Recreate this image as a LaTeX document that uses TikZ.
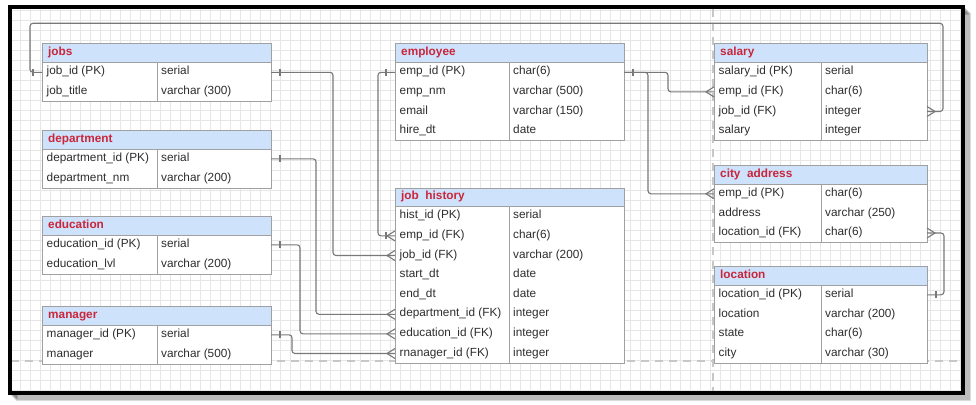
\documentclass[tikz,border=0pt]{standalone}
\usepackage{fontspec}
\setmainfont{Liberation Sans}
\usepackage{tikz}
\usetikzlibrary{calc}

\definecolor{hdrblue}{RGB}{207,226,252}
\definecolor{titlered}{RGB}{200,38,58}
\definecolor{tblgray}{RGB}{160,160,160}
\definecolor{linegray}{RGB}{120,120,120}
\definecolor{txtgray}{RGB}{45,45,45}
\definecolor{gridgray}{RGB}{230,230,230}

\tikzset{
  hdr/.style={draw=tblgray, fill=hdrblue, line width=1pt, minimum height=18.5pt, inner sep=0pt, outer sep=0pt},
  row/.style={fill=white, minimum height=19.6pt, inner sep=0pt, outer sep=0pt},
  cell/.style={inner sep=0pt, text=txtgray, font=\fontsize{11.8}{14}\selectfont},
  title/.style={inner sep=0pt, text=titlered, font=\fontsize{11.8}{14}\selectfont\bfseries},
  tbl/.style={draw=tblgray, line width=1pt},
  conn/.style={draw=linegray, line width=1.1pt, rounded corners=3pt},
  ermark/.style={draw=linegray, line width=1.1pt},
  one/.pic={\draw[ermark] (9,-3.5) -- (9,3.5);},
  many/.pic={\draw[ermark] (0,-5) -- (8,0) -- (0,5);},
}

% table: name, top left, width, divider, rows, title, fields
\newcommand{\ertable}[7]{%
  \node[hdr, minimum width=#3pt, anchor=north west] (#1) at #2 {};
  \node[title, anchor=mid west] at ($(#1.west)+(6,0)$) {#6};
  \foreach \fld/\typ [count=\i] in {#7} {
    \node[row, minimum width=#3pt, anchor=north west] (#1-\i) at ($(#1.south west)+(0,{(\i-1)*19.6})$) {};
    \node[cell, anchor=mid west] at ($(#1-\i.west)+(4.5,0)$) {\fld};
    \node[cell, anchor=mid west] at ($(#1-\i.west)+(#4+4,0)$) {\typ};
  }
  \draw[tbl] (#1.south west) rectangle (#1-#5.south east);
  \draw[tbl] ($(#1.south west)+(#4,0)$) -- ($(#1-#5.south west)+(#4,0)$);
  \draw[tbl] (#1.north west) rectangle (#1.south east);
}

\begin{document}
\begin{tikzpicture}[x=1pt, y=-1pt]
\useasboundingbox (0,0) rectangle (976,404);

% canvas
\fill[white] (0,0) rectangle (976,404);
\foreach \s in {1,...,7}
  \draw[black, opacity=0.14, line width=2pt] ($(9.5,6.7)+(\s,\s)$) rectangle ($(962.5,393)+(\s,\s)$);
\fill[white] (9.5,6.7) rectangle (962.5,393);
\foreach \x in {20,30,...,960} \draw[gridgray, line width=0.6pt] (\x,9) -- (\x,391);
\foreach \y in {10,20,...,390} \draw[gridgray, line width=0.6pt] (11,\y) -- (961,\y);
\draw[black!22, line width=1.2pt, dash pattern=on 8pt off 6pt] (713,9) -- (713,391);
\draw[black!22, line width=1.2pt, dash pattern=on 8pt off 6pt] (11,361) -- (961,361);
\draw[line width=4pt] (9.5,6.7) rectangle (962.5,393);

% tables
\ertable{jobs}{(42,44)}{229}{115}{2}{jobs}{job\_id (PK)/serial, job\_title/varchar (300)}
\ertable{dept}{(42,130.5)}{229}{115}{2}{department}{department\_id (PK)/serial, department\_nm/varchar (200)}
\ertable{edu}{(42,216.5)}{229}{115}{2}{education}{education\_id (PK)/serial, education\_lvl/varchar (200)}
\ertable{mgr}{(42,306.5)}{229}{115}{2}{manager}{manager\_id (PK)/serial, manager/varchar (500)}
\ertable{emp}{(395,44)}{229}{114}{4}{employee}{emp\_id (PK)/char(6), emp\_nm/varchar (500), email/varchar (150), hire\_dt/date}
\ertable{jh}{(395,188)}{229}{114}{8}{job\ \ history}{hist\_id (PK)/serial, emp\_id (FK)/char(6), job\_id (FK)/varchar (200), start\_dt/date, end\_dt/date, department\_id (FK)/integer, education\_id (FK)/integer, rnanager\_id (FK)/integer}
\ertable{sal}{(714,44)}{213}{107}{4}{salary}{salary\_id (PK)/serial, emp\_id (FK)/char(6), job\_id (FK)/integer, salary/integer}
\ertable{city}{(714,165.5)}{213}{107}{3}{city\ \ address}{emp\_id (PK)/char(6), address/varchar (250), location\_id (FK)/char(6)}
\ertable{loc}{(714,266.5)}{213}{107}{4}{location}{location\_id (PK)/serial, location/varchar (200), state/char(6), city/varchar (30)}

% relations
\draw[conn] (jobs-1.east) -- ++(62,0) |- (jh-3.west);
\draw[conn] (emp-1.west) -- ++(-17,0) |- (jh-2.west);
\draw[conn] (jobs-1.west) -- ++(-12,0) -- ++(0,-49) -| ($(sal-3.east)+(16,0)$) -- (sal-3.east);
\draw[conn] (dept-1.east) -- ++(45,0) |- (jh-6.west);
\draw[conn] (edu-1.east) -- ++(29,0) |- (jh-7.west);
\draw[conn] (mgr-1.east) -- ++(21,0) |- (jh-8.west);
\draw[conn] (emp-1.east) -- ++(44,0) |- (sal-2.west);
\draw[conn] (emp-1.east) -- ++(24,0) |- (city-1.west);
\draw[conn] (city-3.east) -- ++(17,0) |- (loc-1.east);

% ends
\foreach \n in {jobs-1, dept-1, edu-1, mgr-1, emp-1, loc-1} \pic at (\n.east) {one};
\foreach \n in {jobs-1, emp-1, jh-2} \pic[rotate=180] at (\n.west) {one};
\foreach \n in {jh-2, jh-3, jh-6, jh-7, jh-8, sal-2, city-1} \pic[rotate=180] at (\n.west) {many};
\foreach \n in {sal-3, city-3} \pic at (\n.east) {many};

\end{tikzpicture}
\end{document}
